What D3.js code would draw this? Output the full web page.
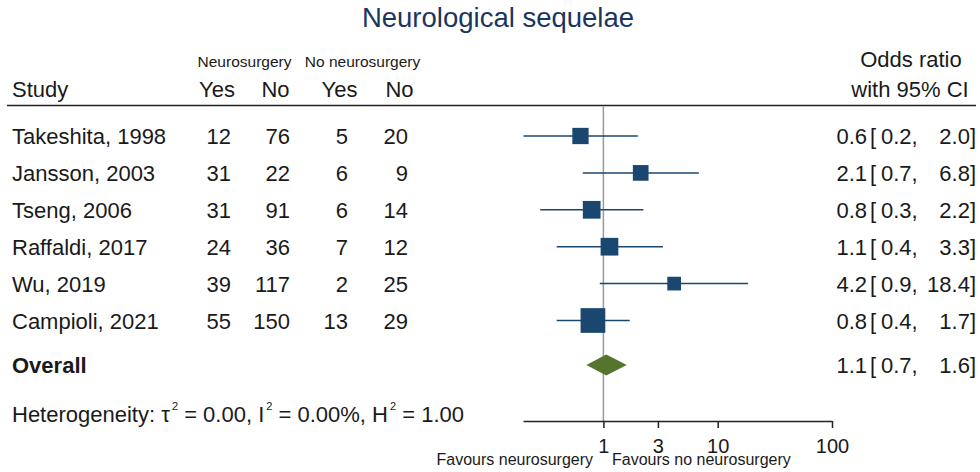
<!DOCTYPE html>
<html>
<head>
<meta charset="utf-8">
<script src="https://cdn.jsdelivr.net/npm/d3@7"></script>
<style>
  body { margin: 0; background: #fff; }
  svg { display: block; font-family: "Liberation Sans", Arial, sans-serif; }
</style>
</head>
<body>
<svg id="chart" width="980" height="472"></svg>
<script>
// study data
const studies = ["Takeshita, 1998", "Jansson, 2003", "Tseng, 2006", "Raffaldi, 2017", "Wu, 2019", "Campioli, 2021"];
const nsYes = [12, 31, 31, 24, 39, 55];
const nsNo = [76, 22, 91, 36, 117, 150];
const noNsYes = [5, 6, 6, 7, 2, 13];
const noNsNo = [20, 9, 14, 12, 25, 29];
const oddsRatio = [0.63, 2.12, 0.79, 1.13, 4.16, 0.81];
const ciLow = [0.2, 0.66, 0.28, 0.39, 0.93, 0.39];
const ciHigh = [2.0, 6.84, 2.24, 3.32, 18.4, 1.70];
const weights = [13.7, 12.7, 16.2, 16.2, 9.7, 31.5];
// overall estimate
const overall = { or: 1.06, lo: 0.71, hi: 1.6 };
const tickValues = [1, 3, 10, 100];

const svg = d3.select("#chart");
const ink = "#1a1a1a";
const navy = "#1a476f";
const green = "#55752f";
const fs = 22; // main text size

const x = d3.scaleLog().domain([0.198, 100]).range([523, 832]);
const y = d3.scaleLinear().domain([0, studies.length - 1]).range([136, 320.5]);
const overallY = 365;
const axisY = 421;
const side = d3.scaleSqrt().domain([0, 31.5]).range([0, 24.7]);
const fmt = d3.format(".1f");

// title
svg.append("text")
    .attr("x", 498).attr("y", 27)
    .attr("text-anchor", "middle")
    .attr("font-size", 27.5)
    .attr("fill", "#1a3660")
    .text("Neurological sequelae");

// column headers
const hdr = svg.append("g").attr("fill", ink);
hdr.append("text").attr("x", 244.5).attr("y", 67).attr("text-anchor", "middle").attr("font-size", 15.5).text("Neurosurgery");
hdr.append("text").attr("x", 362.5).attr("y", 67).attr("text-anchor", "middle").attr("font-size", 15.5).text("No neurosurgery");
hdr.append("text").attr("x", 12).attr("y", 97).attr("font-size", fs).text("Study");
[["Yes", 217], ["No", 275.5], ["Yes", 339.5], ["No", 399.5]].forEach(h => {
    hdr.append("text").attr("x", h[1]).attr("y", 97).attr("text-anchor", "middle").attr("font-size", fs).text(h[0]);
});
hdr.append("text").attr("x", 911).attr("y", 67).attr("text-anchor", "middle").attr("font-size", fs).text("Odds ratio");
hdr.append("text").attr("x", 910).attr("y", 97).attr("text-anchor", "middle").attr("font-size", fs).text("with 95% CI");

svg.append("line")
    .attr("x1", 7).attr("x2", 976).attr("y1", 105.5).attr("y2", 105.5)
    .attr("stroke", "#222").attr("stroke-width", 1.5);

// reference line at OR = 1
svg.append("line")
    .attr("x1", x(1)).attr("x2", x(1)).attr("y1", 106.5).attr("y2", axisY)
    .attr("stroke", "#9a9a9a").attr("stroke-width", 1.5);

// study rows
const rows = svg.selectAll("g.row")
    .data(studies)
    .enter().append("g")
    .attr("class", "row")
    .attr("transform", (d, i) => "translate(0," + y(i) + ")");

rows.append("text").attr("x", 12).attr("y", 8).attr("font-size", fs).attr("fill", ink).text(d => d);

const countCols = [[nsYes, 231], [nsNo, 290], [noNsYes, 348], [noNsNo, 408]];
countCols.forEach(c => {
    rows.append("text")
        .attr("x", c[1]).attr("y", 8)
        .attr("text-anchor", "end")
        .attr("font-size", fs).attr("fill", ink)
        .text((d, i) => c[0][i]);
});

rows.append("line")
    .attr("x1", (d, i) => x(ciLow[i]))
    .attr("x2", (d, i) => x(ciHigh[i]))
    .attr("stroke", navy).attr("stroke-width", 1.5);

rows.append("rect")
    .attr("x", (d, i) => x(oddsRatio[i]) - side(weights[i]) / 2)
    .attr("y", (d, i) => -side(weights[i]) / 2)
    .attr("width", (d, i) => side(weights[i]))
    .attr("height", (d, i) => side(weights[i]))
    .attr("fill", navy);

function ciText(g, or, lo, hi) {
    g.append("text").attr("x", 867).attr("y", 8).attr("text-anchor", "end").text(fmt(or));
    g.append("text").attr("x", 870).attr("y", 8).text("[");
    g.append("text").attr("x", 881).attr("y", 8).text(fmt(lo) + ",");
    g.append("text").attr("x", 976).attr("y", 8).attr("text-anchor", "end").text(fmt(hi) + "]");
}

rows.each(function (d, i) {
    const g = d3.select(this).append("g").attr("font-size", fs).attr("fill", ink);
    ciText(g, oddsRatio[i], ciLow[i], ciHigh[i]);
});

// overall row
const ov = svg.append("g").attr("transform", "translate(0," + overallY + ")");
ov.append("text").attr("x", 12).attr("y", 8).attr("font-size", fs).attr("font-weight", "bold").attr("fill", ink).text("Overall");
ov.append("path")
    .attr("d", "M" + x(overall.lo) + ",0L" + x(overall.or) + ",-10.5L" + x(overall.hi) + ",0L" + x(overall.or) + ",10.5Z")
    .attr("fill", green);
ciText(ov.append("g").attr("font-size", fs).attr("fill", ink), overall.or, overall.lo, overall.hi);

// heterogeneity
const het = svg.append("text").attr("x", 12).attr("y", 410).attr("font-size", fs).attr("fill", ink);
[["Heterogeneity: τ", false], ["2", true], [" = 0.00, I", false], ["2", true], [" = 0.00%, H", false], ["2", true], [" = 1.00", false]]
    .forEach(p => {
        het.append("tspan")
            .attr("font-size", p[1] ? 11 : fs)
            .attr("dy", p[1] ? -12 : (het.selectAll("tspan").size() ? 12 : 0))
            .attr("dx", p[1] ? 2 : 0)
            .text(p[0]);
    });

// x axis
const axis = svg.append("g")
    .attr("transform", "translate(0," + axisY + ")")
    .call(d3.axisBottom(x).tickValues(tickValues).tickFormat(d3.format("d")).tickSize(7).tickSizeOuter(0).tickPadding(11));
axis.select(".domain").attr("stroke", "#222").attr("stroke-width", 1.5);
axis.selectAll(".tick line").attr("stroke", "#222").attr("stroke-width", 1.5);
axis.selectAll(".tick text").attr("font-size", 20).attr("fill", ink).attr("font-family", "Liberation Sans, Arial, sans-serif");

svg.append("text").attr("x", 593).attr("y", 465).attr("text-anchor", "end").attr("font-size", 16).attr("fill", ink).text("Favours neurosurgery");
svg.append("text").attr("x", 612).attr("y", 465).attr("font-size", 16).attr("fill", ink).text("Favours no neurosurgery");
</script>
</body>
</html>
